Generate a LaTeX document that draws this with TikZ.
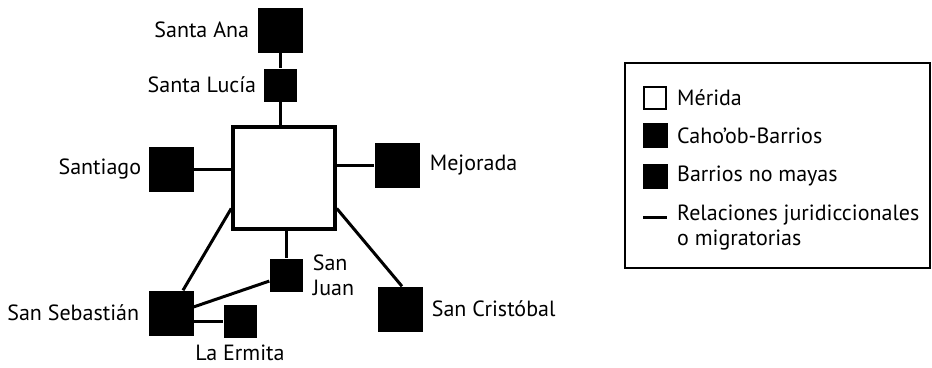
\documentclass[tikz,border=0pt]{standalone}
\usepackage{fontspec}
\setmainfont{PT Sans}
\usetikzlibrary{positioning}

\begin{document}
\begin{tikzpicture}[x=1pt,y=-1pt,
    barrio/.style={fill=black,inner sep=0pt,minimum size=45pt},
    chico/.style={barrio,minimum size=33pt},
    ciudad/.style={draw,fill=white,line width=3.5pt,inner sep=0pt,minimum size=102pt},
    etiqueta/.style={inner sep=0pt,font=\fontsize{22}{25}\selectfont},
    relacion/.style={line width=3pt},
    node distance=8pt]
    \useasboundingbox (0,0) rectangle (932,367);

    %% Merida and the barrios
    \node[ciudad] (merida) at (284,178) {};
    \node[barrio] (ana) at (280,30) {};
    \node[chico] (lucia) at (280,85) {};
    \node[barrio] (santiago) at (171,169) {};
    \node[barrio] (mejorada) at (397,165) {};
    \node[chico] (juan) at (286,275) {};
    \node[barrio] (cristobal) at (400,309) {};
    \node[barrio] (sebastian) at (171,313) {};
    \node[chico] (ermita) at (240,321) {};

    % names next to the squares
    \node[etiqueta,left=of ana] (lana) {Santa Ana};
    \node[etiqueta,left=7pt of lucia] (llucia) {Santa Lucía};
    \node[etiqueta,left=7pt of santiago] (lsantiago) {Santiago};
    \node[etiqueta,right=10pt of mejorada] (lmejorada) {Mejorada};
    \node[etiqueta,right=10pt of juan,align=left] (ljuan) {San\\Juan};
    \node[etiqueta,right=9pt of cristobal] (lcristobal) {San Cristóbal};
    \node[etiqueta,left=9pt of sebastian] (lsebastian) {San Sebastián};
    \node[etiqueta,below=7pt of ermita] (lermita) {La Ermita};

    %% relations
    \draw[relacion] (ana.south) -- (lucia.north);
    \draw[relacion] (lucia.south) -- (lucia.south |- merida.north);
    \draw[relacion] (santiago.east) -- (santiago.east -| merida.west);
    \draw[relacion] (merida.east |- mejorada.west) -- (mejorada.west);
    \draw[relacion] (juan.north |- merida.south) -- (juan.north);
    \draw[relacion] (merida.-150) -- ([xshift=12pt]sebastian.north);
    \draw[relacion] (merida.-30) -- ([xshift=2pt]cristobal.north);
    \draw[relacion] (juan.-160) -- (sebastian.15);
    \draw[relacion] (ermita.west -| sebastian.east) -- (ermita.west);

    %% legend
    \draw[line width=1.8pt] (625,63) rectangle (930,268);
    \node[draw,line width=2pt,inner sep=0pt,minimum size=22pt] (lgmerida) at (655,98) {};
    \node[fill=black,inner sep=0pt,minimum size=25pt] (lgcahob) at (655,135) {};
    \node[fill=black,inner sep=0pt,minimum size=25pt] (lgnomaya) at (655,176) {};
    \coordinate (lgrel) at (667,217);
    \draw[relacion] (643,217) -- (lgrel);
    \node[etiqueta,anchor=west] (tmerida) at (677,98) {Mérida};
    \node[etiqueta,anchor=west] (tcahob) at (677,136) {Caho'ob-Barrios};
    \node[etiqueta,anchor=west] (tnomaya) at (677,176) {Barrios no mayas};
    \node[etiqueta,anchor=north west,align=left] (trel) at (677,205) {Relaciones juridiccionales\\o migratorias};
\end{tikzpicture}
\end{document}
